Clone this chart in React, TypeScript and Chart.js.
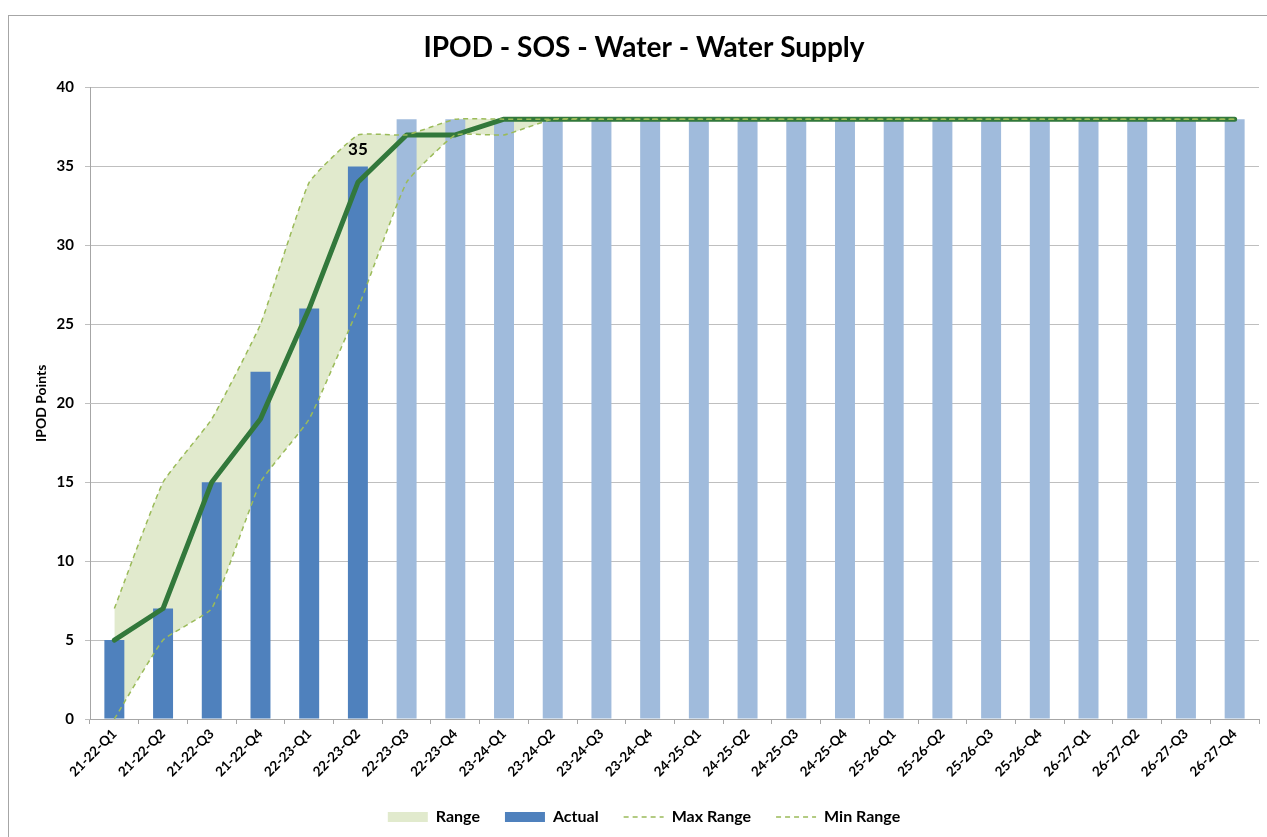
import React, { useEffect, useRef } from 'react';
import { Chart, registerables } from 'chart.js';

Chart.register(...registerables);

const categories = [
  '21-22-Q1', '21-22-Q2', '21-22-Q3', '21-22-Q4',
  '22-23-Q1', '22-23-Q2', '22-23-Q3', '22-23-Q4',
  '23-24-Q1', '23-24-Q2', '23-24-Q3', '23-24-Q4',
  '24-25-Q1', '24-25-Q2', '24-25-Q3', '24-25-Q4',
  '25-26-Q1', '25-26-Q2', '25-26-Q3', '25-26-Q4',
  '26-27-Q1', '26-27-Q2', '26-27-Q3', '26-27-Q4',
];

const actual = [5, 7, 15, 22, 26, 35, null, null, null, null, null, null, null, null, null, null, null, null, null, null, null, null, null, null];
const forecast = [null, null, null, null, null, null, 38, 38, 38, 38, 38, 38, 38, 38, 38, 38, 38, 38, 38, 38, 38, 38, 38, 38];
const plan = [5, 7, 15, 19, 26, 34, 37, 37, 38, 38, 38, 38, 38, 38, 38, 38, 38, 38, 38, 38, 38, 38, 38, 38];
const maxRange = [7, 15, 19, 25, 34, 37, 37, 38, 38, 38, 38, 38, 38, 38, 38, 38, 38, 38, 38, 38, 38, 38, 38, 38];
const minRange = [0, 5, 7, 15, 19, 26, 34, 37, 37, 38, 38, 38, 38, 38, 38, 38, 38, 38, 38, 38, 38, 38, 38, 38];

const yTicks = [0, 5, 10, 15, 20, 25, 30, 35, 40];

const TITLE = 'IPOD - SOS - Water - Water Supply';
const Y_TITLE = 'IPOD Points';
const FONT = 'Lato, "Open Sans", sans-serif';

const C_ACTUAL = '#4f81bd';
const C_FORECAST = '#a0bbdc';
const C_RANGE = '#e1eacd';
const C_DASH = '#9bbb59';
const C_PLAN = '#32783b';

const lastLabelPlugin = {
  id: 'lastLabel',
  afterDatasetsDraw(chart: any) {
    const meta = chart.getDatasetMeta(1);
    let idx = -1;
    actual.forEach((v, i) => { if (v !== null) idx = i; });
    if (idx < 0) return;
    const el = meta.data[idx];
    if (!el) return;
    const ctx = chart.ctx;
    ctx.save();
    ctx.font = `bold 17px ${FONT}`;
    ctx.fillStyle = '#000';
    ctx.textAlign = 'center';
    ctx.textBaseline = 'middle';
    ctx.fillText(String(actual[idx]), el.x, el.y - 17);
    ctx.restore();
  },
};

export default function App() {
  const ref = useRef<HTMLCanvasElement | null>(null);

  useEffect(() => {
    if (!ref.current) return;
    const chart = new Chart(ref.current, {
      type: 'bar',
      data: {
        labels: categories,
        datasets: [
          {
            type: 'line',
            label: 'Range',
            data: maxRange,
            fill: { target: 5 },
            backgroundColor: C_RANGE,
            borderWidth: 0,
            borderColor: 'rgba(0,0,0,0)',
            pointRadius: 0,
            tension: 0.12,
            order: 10,
          },
          {
            type: 'bar',
            label: 'Actual',
            data: actual,
            backgroundColor: C_ACTUAL,
            grouped: false,
            categoryPercentage: 1,
            barPercentage: 0.41,
            order: 6,
          },
          {
            type: 'bar',
            label: 'Forecast',
            data: forecast,
            backgroundColor: C_FORECAST,
            grouped: false,
            categoryPercentage: 1,
            barPercentage: 0.41,
            order: 6,
          },
          {
            type: 'line',
            label: 'Plan',
            data: plan,
            borderColor: C_PLAN,
            borderWidth: 5,
            pointRadius: 0,
            fill: false,
            tension: 0,
            borderJoinStyle: 'round',
            borderCapStyle: 'round',
            order: 3,
          },
          {
            type: 'line',
            label: 'Max Range',
            data: maxRange,
            borderColor: C_DASH,
            borderWidth: 1.5,
            borderDash: [5, 4],
            pointRadius: 0,
            fill: false,
            tension: 0.12,
            order: 1,
          },
          {
            type: 'line',
            label: 'Min Range',
            data: minRange,
            borderColor: C_DASH,
            borderWidth: 1.5,
            borderDash: [5, 4],
            pointRadius: 0,
            fill: false,
            tension: 0.12,
            order: 1,
          },
        ] as any,
      },
      options: {
        responsive: false,
        animation: false,
        devicePixelRatio: 1,
        layout: { padding: { left: 20, right: 22, top: 0, bottom: 11 } },
        plugins: {
          filler: { drawTime: 'beforeDatasetsDraw' } as any,
          tooltip: { enabled: false },
          title: {
            display: true,
            text: TITLE,
            color: '#000',
            font: { family: FONT, size: 28, weight: 'bold', lineHeight: 1.2 },
            padding: { top: 15, bottom: 23 },
          },
          legend: {
            position: 'bottom',
            labels: {
              usePointStyle: true,
              boxWidth: 40,
              boxHeight: 10,
              pointStyleWidth: 40,
              padding: 25,
              color: '#000',
              font: { family: FONT, size: 16, weight: 'bold' },
              generateLabels: () => [
                { text: 'Range', fillStyle: C_RANGE, strokeStyle: C_RANGE, lineWidth: 0, pointStyle: 'rect', datasetIndex: 0, hidden: false },
                { text: 'Actual', fillStyle: C_ACTUAL, strokeStyle: C_ACTUAL, lineWidth: 0, pointStyle: 'rect', datasetIndex: 1, hidden: false },
                { text: 'Max Range', fillStyle: C_DASH, strokeStyle: C_DASH, lineWidth: 1.5, lineDash: [5, 4], pointStyle: 'line', datasetIndex: 4, hidden: false },
                { text: 'Min Range', fillStyle: C_DASH, strokeStyle: C_DASH, lineWidth: 1.5, lineDash: [5, 4], pointStyle: 'line', datasetIndex: 5, hidden: false },
              ] as any,
            },
          },
        },
        scales: {
          x: {
            offset: true,
            grid: {
              display: true,
              drawOnChartArea: false,
              drawTicks: true,
              tickLength: 5,
              color: '#a6a6a6',
              offset: true,
            },
            border: { display: true, color: '#a6a6a6' },
            ticks: {
              color: '#000',
              minRotation: 45,
              maxRotation: 45,
              autoSkip: false,
              padding: 2,
              font: { family: FONT, size: 13.5, weight: 'bold' },
            },
            afterFit: (scale: any) => { scale.height = 65; },
          },
          y: {
            min: 0,
            max: 40,
            afterBuildTicks: (scale: any) => { scale.ticks = yTicks.map((v) => ({ value: v })); },
            grid: {
              color: '#bfbfbf',
              drawTicks: true,
              tickLength: 5,
            },
            border: { display: true, color: '#a6a6a6' },
            ticks: {
              color: '#000',
              padding: 11,
              font: { family: FONT, size: 15, weight: 'bold' },
            },
            title: {
              display: true,
              text: Y_TITLE,
              color: '#000',
              padding: { top: 4, bottom: 0 },
              font: { family: FONT, size: 14, weight: 'bold' },
            },
            afterFit: (scale: any) => { scale.width = 61; },
          },
        },
      } as any,
      plugins: [lastLabelPlugin],
    });
    return () => chart.destroy();
  }, []);

  return (
    <div
      style={{
        position: 'fixed',
        left: 8,
        top: 15,
        border: '1px solid #a6a6a6',
        background: '#fff',
        width: 1272,
        height: 830,
      }}
    >
      <canvas ref={ref} width={1272} height={830} style={{ width: 1272, height: 830, display: 'block' }} />
    </div>
  );
}
